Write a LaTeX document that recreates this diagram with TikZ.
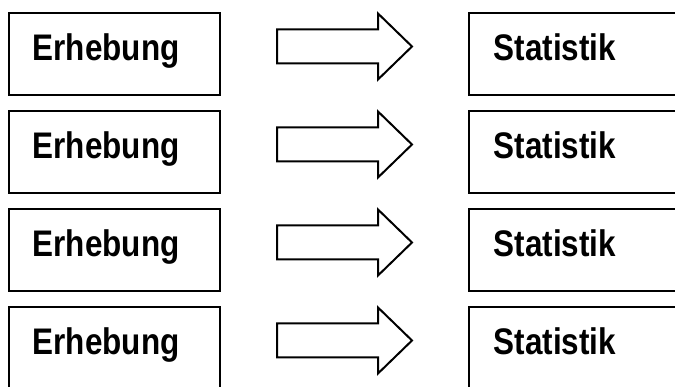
\documentclass[tikz,border=0pt]{standalone}
\usepackage{fontspec}
\setmainfont{Liberation Sans}[FakeStretch=0.85]
\tikzset{
  boxnode/.style={draw=black, line width=2pt, fill=white, minimum width=211pt, minimum height=82pt, inner sep=0pt, outer sep=0pt, anchor=north west},
  rboxnode/.style={draw=black, line width=2pt, fill=white, minimum width=240pt, minimum height=82pt, inner sep=0pt, outer sep=0pt, anchor=north west},
  txtnode/.style={font=\fontsize{37}{42}\selectfont\bfseries, inner sep=0pt, anchor=base west},
  blockarrow/.style={draw=black, line width=2pt, fill=white, line join=miter}
}
\begin{document}
\begin{tikzpicture}[x=1pt,y=1pt]
\useasboundingbox (0,0) rectangle (675,387);
\clip (0,0) rectangle (675,387);
\foreach \i in {0,1,2,3} {
  \pgfmathsetmacro{\ytop}{387-13-98*\i}
  \node[boxnode] (e\i) at (8.5,\ytop) {};
  \node[txtnode] (te\i) at ([shift={(24,-48)}]e\i.north west) {Erhebung};
  \node[rboxnode] (s\i) at (468.5,\ytop) {};
  \node[txtnode] (ts\i) at ([shift={(25,-47.5)}]s\i.north west) {Statistik};
  \coordinate (a\i) at (277,\ytop-33.5);
  \draw[blockarrow] (a\i) ++(0,17) -- ++(101,0) -- ++(0,16) -- ++(34,-33) -- ++(-34,-33) -- ++(0,16) -- ++(-101,0) -- cycle;
}
\end{tikzpicture}
\end{document}
